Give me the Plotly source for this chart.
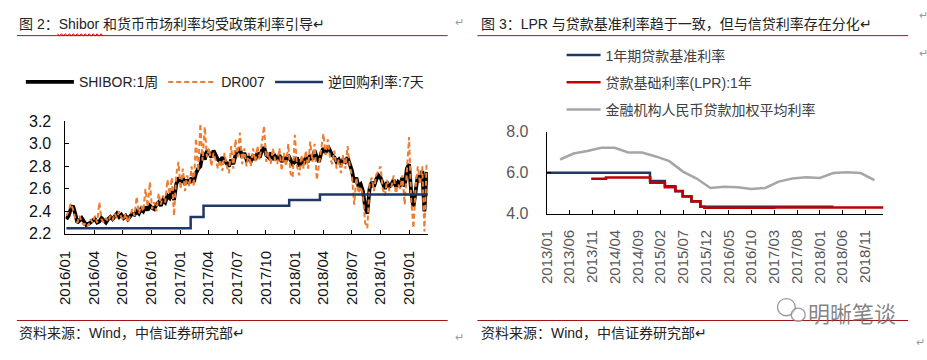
import pandas as pd
import plotly.graph_objects as go

# ---------------- data: left chart (weekly samples, from 2016-01-04) ----------------
shibor_1w = [
    2.33, 2.36, 2.42, 2.45,            # 2016-01
    2.38, 2.30, 2.32, 2.34,            # 2016-02
    2.31, 2.28, 2.29, 2.30, 2.32,      # 2016-03
    2.33, 2.30, 2.31, 2.34,            # 2016-04
    2.32, 2.30, 2.33, 2.35, 2.33,      # 2016-05
    2.36, 2.38, 2.35, 2.37,            # 2016-06
    2.34, 2.36, 2.33, 2.35, 2.38,      # 2016-07
    2.37, 2.40, 2.38, 2.42,            # 2016-08
    2.40, 2.44, 2.41, 2.45,            # 2016-09
    2.43, 2.42, 2.46, 2.48, 2.45,      # 2016-10
    2.50, 2.48, 2.54, 2.52,            # 2016-11
    2.58, 2.50, 2.64, 2.70,            # 2016-12
    2.66, 2.70, 2.64, 2.68, 2.65,      # 2017-01
    2.70, 2.66, 2.74, 2.78,            # 2017-02
    2.80, 2.92, 2.86, 2.94,            # 2017-03
    2.92, 2.88, 2.94, 2.90, 2.86,      # 2017-04
    2.84, 2.88, 2.85, 2.82,            # 2017-05
    2.80, 2.86, 2.82, 2.90,            # 2017-06
    2.94, 2.96, 2.88, 2.92, 2.86,      # 2017-07
    2.88, 2.84, 2.90, 2.86,            # 2017-08
    2.92, 2.88, 2.94, 2.97,            # 2017-09
    2.90, 2.88, 2.92, 2.86, 2.89,      # 2017-10
    2.86, 2.90, 2.84, 2.88,            # 2017-11
    2.85, 2.90, 2.86, 2.82,            # 2017-12
    2.84, 2.88, 2.80, 2.86, 2.82,      # 2018-01
    2.88, 2.84, 2.90, 2.86,            # 2018-02
    2.94, 2.88, 2.84, 2.92,            # 2018-03
    2.96, 2.92, 2.98, 2.94, 2.90,      # 2018-04
    2.88, 2.84, 2.86, 2.82,            # 2018-05
    2.86, 2.84, 2.88, 2.82,            # 2018-06
    2.76, 2.66, 2.70, 2.62, 2.64,      # 2018-07
    2.58, 2.44, 2.38, 2.60,            # 2018-08
    2.66, 2.62, 2.68, 2.72,            # 2018-09
    2.70, 2.64, 2.60, 2.66, 2.62,      # 2018-10
    2.64, 2.68, 2.62, 2.66,            # 2018-11
    2.64, 2.70, 2.62, 2.78,            # 2018-12
    2.82, 2.56, 2.44, 2.60, 2.72,      # 2019-01
    2.66, 2.76, 2.40, 2.75,            # 2019-02
]
dr007 = [
    2.36, 2.40, 2.47, 2.42,            # 2016-01
    2.34, 2.30, 2.36, 2.30,            # 2016-02
    2.28, 2.30, 2.27, 2.33, 2.30,      # 2016-03
    2.36, 2.30, 2.48, 2.33,            # 2016-04
    2.30, 2.34, 2.31, 2.36, 2.32,      # 2016-05
    2.38, 2.34, 2.40, 2.35,            # 2016-06
    2.32, 2.38, 2.30, 2.36, 2.42,      # 2016-07
    2.36, 2.53, 2.38, 2.45,            # 2016-08
    2.40, 2.60, 2.44, 2.66,            # 2016-09
    2.42, 2.48, 2.40, 2.56, 2.46,      # 2016-10
    2.54, 2.48, 2.68, 2.55,            # 2016-11
    2.70, 2.36, 2.72, 2.84,            # 2016-12
    2.60, 2.78, 2.58, 2.72, 2.62,      # 2017-01
    2.80, 2.62, 3.05, 2.76,            # 2017-02
    3.18, 2.85, 3.15, 2.88,            # 2017-03
    2.96, 2.80, 2.92, 2.84, 2.78,      # 2017-04
    2.86, 2.76, 2.92, 2.80,            # 2017-05
    2.74, 2.98, 2.78, 3.04,            # 2017-06
    2.88, 3.10, 2.82, 2.96, 2.80,      # 2017-07
    2.92, 2.80, 2.96, 2.84,            # 2017-08
    2.98, 2.86, 3.04, 3.16,            # 2017-09
    2.84, 2.92, 2.82, 2.96, 2.86,      # 2017-10
    2.82, 2.96, 2.76, 2.92,            # 2017-11
    2.80, 3.00, 2.74, 2.70,            # 2017-12
    3.08, 2.80, 2.72, 2.90, 2.78,      # 2018-01
    2.94, 2.78, 3.02, 2.84,            # 2018-02
    3.00, 2.68, 2.82, 2.96,            # 2018-03
    3.09, 2.90, 3.04, 2.88, 2.82,      # 2018-04
    2.94, 2.78, 2.86, 2.74,            # 2018-05
    2.90, 2.78, 2.98, 2.80,            # 2018-06
    2.72, 2.46, 2.70, 2.56, 2.62,      # 2018-07
    2.54, 2.30, 2.25, 2.64,            # 2018-08
    2.70, 2.58, 2.72, 2.76,            # 2018-09
    2.80, 2.60, 2.54, 2.68, 2.58,      # 2018-10
    2.62, 2.72, 2.56, 2.64,            # 2018-11
    2.60, 2.72, 2.46, 2.80,            # 2018-12
    3.06, 2.50, 2.25, 2.62, 2.80,      # 2019-01
    2.64, 2.80, 2.22, 2.83,            # 2019-02
]
week_dates = pd.date_range("2016-01-04", periods=len(shibor_1w), freq="7D")

repo_dates = ["2016-01-04", "2017-02-03", "2017-03-16", "2017-12-14", "2018-03-22", "2019-03-01"]
repo_7d = [2.25, 2.35, 2.45, 2.50, 2.55, 2.55]

left_ticks_start = "2016-01-01"
left_range = ["2016-01-01", "2019-03-01"]

# ---------------- data: right chart ----------------
bench_dates = ["2013-01-01", "2014-11-22", "2015-03-01", "2015-05-11", "2015-06-28",
               "2015-08-26", "2015-10-24", "2018-04-01"]
bench_1y = [6.00, 5.60, 5.35, 5.10, 4.85, 4.60, 4.35, 4.35]

lpr_dates = ["2013-10-25", "2014-02-01", "2014-11-24", "2015-03-02", "2015-05-11",
             "2015-06-29", "2015-08-26", "2015-10-26", "2015-11-20", "2017-03-01", "2019-03-01"]
lpr_1y = [5.71, 5.77, 5.51, 5.30, 5.11, 4.86, 4.61, 4.35, 4.30, 4.31, 4.31]

wavg_dates = ["2013-03-31", "2013-06-30", "2013-09-30", "2013-12-31",
              "2014-03-31", "2014-06-30", "2014-09-30", "2014-12-31",
              "2015-03-31", "2015-06-30", "2015-09-30", "2015-12-31",
              "2016-03-31", "2016-06-30", "2016-09-30", "2016-12-31",
              "2017-03-31", "2017-06-30", "2017-09-30", "2017-12-31",
              "2018-03-31", "2018-06-30", "2018-09-30", "2018-12-31"]
wavg_rate = [6.65, 6.94, 7.07, 7.22, 7.22, 6.99, 6.99, 6.80,
             6.57, 6.06, 5.72, 5.26, 5.32, 5.29, 5.21, 5.26,
             5.57, 5.72, 5.78, 5.75, 5.99, 6.03, 5.99, 5.64]

right_range = ["2013-01-01", "2019-03-01"]

# ---------------- texts ----------------
title_left = "图 2：Shibor 和货币市场利率均受政策利率引导↵"
title_right = "图 3：LPR 与贷款基准利率趋于一致，但与信贷利率存在分化↵"
source_text = "资料来源：Wind，中信证券研究部↵"
watermark = "明晰笔谈"

# ---------------- layout helpers ----------------
W, H = 927, 360
def px(x):
    return x / W
def py(y):
    return 1 - y / H

FONT = "Liberation Sans, Arial, Noto Sans CJK SC, sans-serif"
CJK = "Noto Sans CJK SC, Liberation Sans, sans-serif"
NAVY = "#1F3864"
ORANGE = "#ED7D31"
RED = "#C00000"
GRAY = "#A6A6A6"

fig = go.Figure()

# left chart
fig.add_trace(go.Scatter(x=week_dates, y=shibor_1w, name="SHIBOR:1周", mode="lines",
                         line=dict(color="#000000", width=3.8), xaxis="x", yaxis="y",
                         legend="legend"))
fig.add_trace(go.Scatter(x=week_dates, y=dr007, name="DR007", mode="lines",
                         line=dict(color=ORANGE, width=2, dash="5px,3px"), xaxis="x", yaxis="y",
                         legend="legend"))
fig.add_trace(go.Scatter(x=repo_dates, y=repo_7d, name="逆回购利率:7天", mode="lines",
                         line=dict(color=NAVY, width=2.5, shape="hv"), xaxis="x", yaxis="y",
                         legend="legend"))

# right chart
fig.add_trace(go.Scatter(x=bench_dates, y=bench_1y, name="1年期贷款基准利率", mode="lines",
                         line=dict(color=NAVY, width=2.5, shape="hv"), xaxis="x2", yaxis="y2",
                         legend="legend2", legendgroup="a"))
fig.add_trace(go.Scatter(x=lpr_dates, y=lpr_1y, name="贷款基础利率(LPR):1年", mode="lines",
                         line=dict(color=RED, width=2.5, shape="hv"), xaxis="x2", yaxis="y2",
                         legend="legend2", legendgroup="b"))
fig.add_trace(go.Scatter(x=wavg_dates, y=wavg_rate, name="金融机构人民币贷款加权平均利率",
                         mode="lines", line=dict(color=GRAY, width=2.5), xaxis="x2", yaxis="y2",
                         legend="legend2", legendgroup="c"))

axis_common = dict(showgrid=False, zeroline=False, showline=True, linecolor="#000000",
                   linewidth=1, ticks="inside", ticklen=4, tickcolor="#000000")

fig.update_layout(
    width=W, height=H, margin=dict(l=0, r=0, t=0, b=0),
    paper_bgcolor="white", plot_bgcolor="white",
    font=dict(family=FONT, size=14, color="#222222"),
    xaxis=dict(domain=[px(57), px(423)], anchor="y", type="date", range=left_range,
               tick0=left_ticks_start, dtick="M3", tickformat="%Y/%m", tickangle=-90,
               tickfont=dict(size=15, color="#111111", family=FONT), ticklabelstandoff=10,
               **axis_common),
    yaxis=dict(domain=[py(237), py(119)], anchor="x", range=[2.2, 3.2], dtick=0.2,
               tickformat=".1f", tickfont=dict(size=16, color="#111111", family=FONT),
               ticklabelstandoff=10, **axis_common),
    xaxis2=dict(domain=[px(543), px(883)], anchor="y2", type="date", range=right_range,
                tick0="2013-01-01", dtick="M5", tickformat="%Y/%m", tickangle=-90,
                tickfont=dict(size=15, color="#595959", family=FONT), ticklabelstandoff=9,
                **axis_common),
    yaxis2=dict(domain=[py(216), py(130)], anchor="x2", range=[4.0, 8.0], dtick=2,
                tickformat=".1f", tickfont=dict(size=16, color="#595959", family=FONT),
                ticklabelstandoff=14, **axis_common),
    legend=dict(orientation="h", x=px(12), y=py(78), xanchor="left", yanchor="middle",
                font=dict(size=14, family=FONT, color="#222222"), itemwidth=48,
                bgcolor="rgba(0,0,0,0)", borderwidth=0, traceorder="normal"),
    legend2=dict(orientation="v", x=px(558), y=py(33), xanchor="left", yanchor="top",
                 font=dict(size=14, family=FONT, color="#404040"), itemwidth=34,
                 bgcolor="rgba(0,0,0,0)", borderwidth=0, tracegroupgap=6,
                 traceorder="grouped"),
    showlegend=True,
)

ann = []
def text(x, y, s, size=14, color="#222222", anchor="left", family=CJK):
    ann.append(dict(x=px(x), y=py(y), xref="paper", yref="paper", text=s, showarrow=False,
                    xanchor=anchor, yanchor="middle", font=dict(size=size, color=color,
                                                               family=family)))

text(8, 17, title_left, family=FONT)
text(475, 17, title_right, family=FONT)
text(448, 14, "↵", size=11, color="#999999")
text(917, 6, "↵", size=11, color="#999999")
text(917, 46, "↵", size=11, color="#999999")
text(8, 341, source_text, family=FONT)
text(475, 341, source_text, family=FONT)
text(448, 344, "↵", size=11, color="#999999")
text(914, 350, "↵", size=11, color="#999999")
text(805, 319, watermark, size=22, color="rgba(110,110,110,0.85)")

shapes = []
for x0, x1 in [(8, 443), (473, 908)]:
    for y in (29, 328):
        shapes.append(dict(type="line", xref="paper", yref="paper", x0=px(x0), x1=px(x1),
                           y0=py(y), y1=py(y), line=dict(color="#A31515", width=1)))
# spell-check squiggle under "Shibor"
pts = []
for i, xx in enumerate(range(49, 96, 2)):
    yy = 27 if i % 2 == 0 else 29.5
    pts.append(f"{px(xx):.5f},{py(yy):.5f}")
shapes.append(dict(type="path", xref="paper", yref="paper", path="M" + " L".join(pts),
                   line=dict(color="#E00000", width=1)))
# watermark icon (two bubbles)
for cx, cy, r in [(785, 314, 9), (797, 322, 7)]:
    shapes.append(dict(type="circle", xref="paper", yref="paper", x0=px(cx - r), x1=px(cx + r),
                       y0=py(cy + r), y1=py(cy - r),
                       line=dict(color="rgba(130,130,130,0.8)", width=1.3),
                       fillcolor="rgba(255,255,255,0.6)"))

fig.update_layout(annotations=ann, shapes=shapes)

fig.write_html("out.html", config={"displayModeBar": False},
               post_script="document.body.style.margin='0';")
